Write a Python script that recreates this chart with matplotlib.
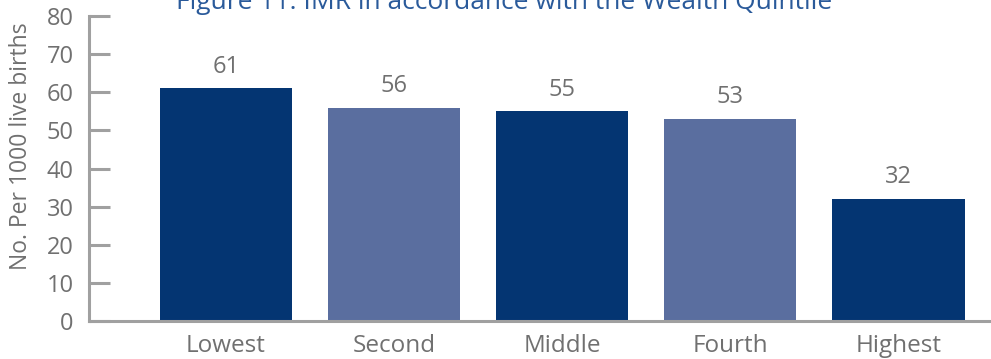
import matplotlib.pyplot as plt

categories = ["Lowest", "Second", "Middle", "Fourth", "Highest"]
imr = [61, 56, 55, 53, 32]
bar_colors = ["#043572", "#5a6e9f", "#043572", "#5a6e9f", "#043572"]

plt.rcParams["font.family"] = ["Open Sans", "DejaVu Sans"]
gray = "#707070"

fig = plt.figure(figsize=(9.91, 3.59), dpi=100)
ax = fig.add_axes([89 / 991, 38 / 359, 902 / 991, 305 / 359])

x = range(len(categories))
bars = ax.bar(x, imr, width=0.786, color=bar_colors)

for b, v in zip(bars, imr):
    ax.annotate(str(v), (b.get_x() + b.get_width() / 2, v),
                xytext=(0, 7), textcoords="offset points",
                ha="center", va="bottom", fontsize=17, color=gray)

ax.set_xlim(-0.815, 4.55)
ax.set_ylim(0, 80)
ax.set_yticks(range(0, 81, 10))
ax.set_xticks(list(x))
ax.set_xticklabels(categories)

for side in ["top", "right"]:
    ax.spines[side].set_visible(False)
for side in ["left", "bottom"]:
    ax.spines[side].set_color("#a0a0a0")
    ax.spines[side].set_linewidth(2.2)

ax.tick_params(axis="y", direction="in", length=15, width=2.2, color="#a0a0a0",
               labelsize=17, labelcolor=gray, pad=11)
ax.tick_params(axis="x", length=0, labelsize=17.5, labelcolor=gray, pad=9)

ax.set_ylabel("No. Per 1000 live births", fontsize=16.5, color=gray)
ax.yaxis.set_label_coords(-56 / 902, (321 - 146) / 305)

fig.text(504 / 991, 1 - 9 / 359, "Figure 11: IMR in accordance with the Wealth Quintile",
         ha="center", va="baseline", fontsize=19, color="#2a5a9a")

fig.savefig("out.png", dpi=100)
